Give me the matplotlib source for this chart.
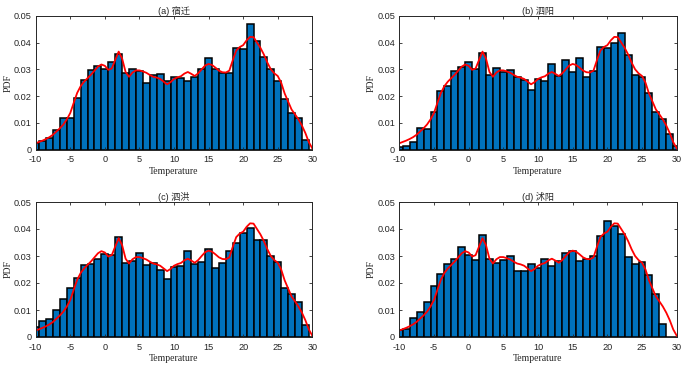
import numpy as np
import matplotlib
matplotlib.use('Agg')
import matplotlib.pyplot as plt

plt.rcParams['axes.unicode_minus'] = False

# bin centres (integer temperatures) and histogram heights for each station
centers = list(range(-10, 31))

pdf_a = [0.0025, 0.0033, 0.0045, 0.0073, 0.0117, 0.0120, 0.0193, 0.0260, 0.0297, 0.0313,
         0.0300, 0.0327, 0.0358, 0.0288, 0.0300, 0.0292, 0.0250, 0.0278, 0.0283, 0.0258,
         0.0271, 0.0268, 0.0257, 0.0273, 0.0300, 0.0343, 0.0300, 0.0287, 0.0288, 0.0378,
         0.0375, 0.0470, 0.0405, 0.0347, 0.0302, 0.0255, 0.0190, 0.0137, 0.0120, 0.0037,
         0.0]
pdf_b = [0.0010, 0.0013, 0.0030, 0.0080, 0.0077, 0.0140, 0.0220, 0.0238, 0.0295, 0.0310,
         0.0328, 0.0300, 0.0360, 0.0280, 0.0303, 0.0290, 0.0298, 0.0270, 0.0260, 0.0223,
         0.0265, 0.0258, 0.0320, 0.0275, 0.0335, 0.0290, 0.0342, 0.0270, 0.0292, 0.0385,
         0.0378, 0.0400, 0.0435, 0.0355, 0.0280, 0.0272, 0.0210, 0.0140, 0.0113, 0.0057,
         0.0015]
pdf_c = [0.0037, 0.0060, 0.0065, 0.0100, 0.0140, 0.0180, 0.0220, 0.0265, 0.0270, 0.0290,
         0.0308, 0.0305, 0.0370, 0.0275, 0.0280, 0.0310, 0.0268, 0.0273, 0.0247, 0.0213,
         0.0260, 0.0263, 0.0320, 0.0270, 0.0278, 0.0325, 0.0255, 0.0275, 0.0318, 0.0350,
         0.0385, 0.0403, 0.0360, 0.0358, 0.0300, 0.0277, 0.0182, 0.0160, 0.0128, 0.0043,
         0.0]
pdf_d = [0.0025, 0.0030, 0.0072, 0.0093, 0.0128, 0.0188, 0.0233, 0.0270, 0.0290, 0.0335,
         0.0305, 0.0285, 0.0378, 0.0290, 0.0275, 0.0285, 0.0300, 0.0243, 0.0243, 0.0270,
         0.0257, 0.0290, 0.0263, 0.0280, 0.0310, 0.0320, 0.0280, 0.0290, 0.0300, 0.0375,
         0.0430, 0.0410, 0.0380, 0.0298, 0.0272, 0.0277, 0.0230, 0.0160, 0.0048, 0.0,
         0.0]

# red fitted density curve (same in all four panels), read every 0.5 degree
kde_x = [-10.0, -9.5, -9.0, -8.5, -8.0, -7.5, -7.0, -6.5, -6.0, -5.5,
         -5.0, -4.5, -4.0, -3.5, -3.0, -2.5, -2.0, -1.5, -1.0, -0.5,
         0.0, 0.5, 1.0, 1.5, 2.0, 2.5, 3.0, 3.5, 4.0, 4.5,
         5.0, 5.5, 6.0, 6.5, 7.0, 7.5, 8.0, 8.5, 9.0, 9.5,
         10.0, 10.5, 11.0, 11.5, 12.0, 12.5, 13.0, 13.5, 14.0, 14.5,
         15.0, 15.5, 16.0, 16.5, 17.0, 17.5, 18.0, 18.5, 19.0, 19.5,
         20.0, 20.5, 21.0, 21.5, 22.0, 22.5, 23.0, 23.5, 24.0, 24.5,
         25.0, 25.5, 26.0, 26.5, 27.0, 27.5, 28.0, 28.5, 29.0, 29.5, 30.0]
kde_y = [0.0024, 0.0029, 0.0034, 0.0040, 0.0047, 0.0056, 0.0068, 0.0080, 0.0094, 0.0113,
         0.0137, 0.0175, 0.0212, 0.0237, 0.0254, 0.0267, 0.0280, 0.0295, 0.0310, 0.0318,
         0.0313, 0.0298, 0.0303, 0.0335, 0.0366, 0.0340, 0.0290, 0.0272, 0.0288, 0.0296,
         0.0296, 0.0292, 0.0287, 0.0279, 0.0272, 0.0269, 0.0264, 0.0254, 0.0244, 0.0252,
         0.0264, 0.0270, 0.0274, 0.0284, 0.0290, 0.0283, 0.0275, 0.0285, 0.0300, 0.0314,
         0.0320, 0.0316, 0.0306, 0.0295, 0.0289, 0.0288, 0.0295, 0.0334, 0.0370, 0.0383,
         0.0390, 0.0408, 0.0421, 0.0420, 0.0400, 0.0380, 0.0355, 0.0325, 0.0300, 0.0285,
         0.0275, 0.0250, 0.0210, 0.0180, 0.0150, 0.0132, 0.0113, 0.0090, 0.0062, 0.0028, 0.0005]

titles = ['(a) 宿迁', '(b) 泗阳', '(c) 泗洪', '(d) 沭阳']
xticks = [-10, -5, 0, 5, 10, 15, 20, 25, 30]
yticks = [0, 0.01, 0.02, 0.03, 0.04, 0.05]
ytick_labels = ['0', '0.01', '0.02', '0.03', '0.04', '0.05']

W, H = 685, 365
# axes boxes in pixels: left, top, right, bottom
boxes = [(35.7, 15.7, 312.3, 149.7), (399.3, 15.7, 676.7, 149.7),
         (35.7, 202.0, 312.3, 337.0), (399.3, 202.0, 676.7, 337.0)]

fig = plt.figure(figsize=(6.85, 3.65), dpi=100)
txt = '#262626'
sans = ['Liberation Sans', 'Noto Sans CJK SC']
serif = ['Liberation Serif', 'Noto Serif CJK SC', 'DejaVu Serif']

for pdf, title, (l, t, r, b) in zip([pdf_a, pdf_b, pdf_c, pdf_d], titles, boxes):
    ax = fig.add_axes([l / W, 1 - b / H, (r - l) / W, (b - t) / H])
    ax.bar(centers, pdf, width=1.0, color='#0072BD', edgecolor='black', linewidth=1.1)
    ax.plot(kde_x, kde_y, color='red', linewidth=1.3)
    ax.set_xlim(-10, 30)
    ax.set_ylim(0, 0.05)
    ax.set_xticks(xticks)
    ax.set_xticklabels([str(v) for v in xticks], family=sans, fontsize=6.6, color=txt)
    ax.set_yticks(yticks)
    ax.set_yticklabels(ytick_labels, family=sans, fontsize=6.6, color=txt)
    ax.tick_params(direction='in', top=True, right=True, length=2.5, width=0.6,
                   color=txt)
    ax.tick_params(axis='x', pad=4)
    ax.tick_params(axis='y', pad=3)
    for sp in ax.spines.values():
        sp.set_color(txt)
        sp.set_linewidth(0.7)
    ax.set_title(title, family=sans, fontsize=6.6, color=txt, pad=1.5)
    ax.set_xlabel('Temperature', family=serif, fontsize=7, color=txt, labelpad=2)
    ax.set_ylabel('PDF', family=serif, fontsize=7, color=txt)
    ax.yaxis.set_label_coords(-0.085, 0.5)

plt.savefig('out.png', dpi=100)
